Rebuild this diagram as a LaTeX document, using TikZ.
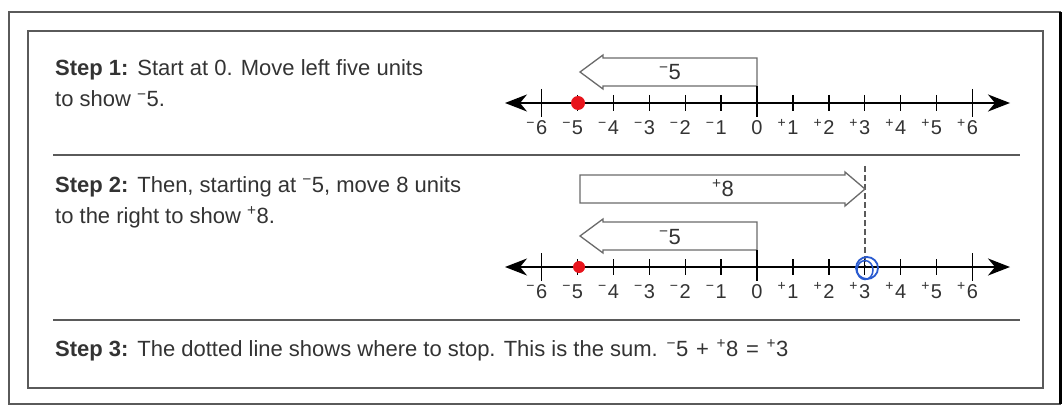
\documentclass[tikz,border=0pt]{standalone}
\usepackage{fontspec}
\usepackage{graphicx}
\setmainfont{Liberation Sans}
\usetikzlibrary{arrows.meta}
\definecolor{txt}{HTML}{333333}
\definecolor{framec}{HTML}{5A5A5A}
\definecolor{boxc}{HTML}{6A6A6A}
\definecolor{reddot}{HTML}{E8141C}
\definecolor{bluec}{HTML}{2A5BD0}
\newcommand{\sgm}{\textsuperscript{−}}
\newcommand{\sgp}{\textsuperscript{+}}
\newcommand{\numlabel}[1]{\ifnum#1<0 \llap{\sgm\kern1pt}\the\numexpr-#1\relax\else\ifnum#1>0 \llap{\sgp\kern1pt}#1\else 0\fi\fi}
\begin{document}
\begin{tikzpicture}[x=1pt,y=-1pt,
  steptext/.style={anchor=base west, inner sep=0pt, text=txt, font=\fontsize{22}{26}\selectfont},
  numlab/.style={anchor=base, inner sep=0pt, text=txt, font=\fontsize{20}{22}\selectfont},
  boxlab/.style={anchor=base, inner sep=0pt, text=txt, font=\fontsize{22}{24}\selectfont},
  axisline/.style={line width=2pt, black, {Stealth[length=22pt,width=17pt,inset=7pt]}-{Stealth[length=22pt,width=17pt,inset=7pt]}},
  tickline/.style={line width=1.4pt, black},
  movebox/.style={draw=boxc, line width=1.3pt, fill=white, line join=miter},
  frameline/.style={draw=framec, line width=1.5pt},
  divider/.style={draw=framec, line width=1.5pt}
]
\useasboundingbox (0,0) rectangle (1064,406);
\fill[white] (0,0) rectangle (1064,406);

% frames
\draw[frameline] (9,12) rectangle (1060,404);
\draw[line width=3pt, black] (1060,12) -- (1060,404);
\draw[frameline] (28,31) rectangle (1043,388);
\draw[divider] (53,155) -- (1020,155);
\draw[divider] (53,320) -- (1020,320);

% step texts
\node[steptext] (s1a) at (55,76) {\textbf{Step 1:}\hspace{0.4em}Start at 0. Move left five units};
\node[steptext] (s1b) at (55,107) {to show \sgm5.};
\node[steptext] (s2a) at (55,192) {\textbf{Step 2:}\hspace{0.4em}Then, starting at \sgm5, move 8 units};
\node[steptext] (s2b) at (55,223) {to the right to show \sgp8.};
\node[steptext] (s3) at (55,356) {\textbf{Step 3:}\hspace{0.4em}The dotted line shows where to stop. This is the sum.\hspace{0.4em}\sgm5\hspace{0.35em}+\hspace{0.35em}\sgp8\hspace{0.35em}=\hspace{0.35em}\sgp3};

% number line 1
\coordinate (L1) at (505,103);
\coordinate (R1) at (1010,103);
\draw[movebox] (757,58) -- (603,58) -- (603,55) -- (580,72) -- (603,89) -- (603,86) -- (757,86) -- cycle;
\node[boxlab] (b1) at (670,80) {\sgm5};
\draw[axisline] (L1) -- (R1);
\foreach \i in {-6,...,6}{
  \pgfmathsetmacro\xx{757+35.9*\i}
  \ifnum\i=-6 \draw[tickline] (\xx,89) -- (\xx,117);
  \else\ifnum\i=0 \draw[tickline] (\xx,86) -- (\xx,117);
  \else\ifnum\i=6 \draw[tickline] (\xx,89) -- (\xx,117);
  \else \draw[tickline] (\xx,95) -- (\xx,111);
  \fi\fi\fi
  \node[numlab] (p\i) at (\xx,135) {\numlabel{\i}};
}
\fill[reddot] (578,103) circle[radius=7pt];

% number line 2
\coordinate (L2) at (505,267);
\coordinate (R2) at (1010,267);
\coordinate (D1) at (865,166);
\coordinate (D2) at (865,267);
\draw[draw=framec, line width=1.2pt, dash pattern=on 6pt off 3pt] (D1) -- (D2);
\draw[movebox] (580,175) -- (845,175) -- (845,172) -- (865,189) -- (845,206) -- (845,203) -- (580,203) -- cycle;
\node[boxlab] (b2) at (723,196) {\sgp8};
\draw[movebox] (757,222) -- (603,222) -- (603,219) -- (580,236) -- (603,253) -- (603,250) -- (757,250) -- cycle;
\node[boxlab] (b3) at (670,244) {\sgm5};
\draw[axisline] (L2) -- (R2);
\foreach \i in {-6,...,6}{
  \pgfmathsetmacro\xx{757+35.9*\i}
  \ifnum\i=-6 \draw[tickline] (\xx,253) -- (\xx,281);
  \else\ifnum\i=0 \draw[tickline] (\xx,250) -- (\xx,281);
  \else\ifnum\i=6 \draw[tickline] (\xx,253) -- (\xx,281);
  \else \draw[tickline] (\xx,259) -- (\xx,275);
  \fi\fi\fi
  \node[numlab] (q\i) at (\xx,298) {\numlabel{\i}};
}
\fill[reddot] (579,267) circle[radius=6pt];
\draw[bluec, line width=1.8pt] (867,268) circle[radius=11pt];
\draw[bluec, line width=1.5pt] (865,270) circle[x radius=8pt, y radius=9.5pt];
\end{tikzpicture}
\end{document}
